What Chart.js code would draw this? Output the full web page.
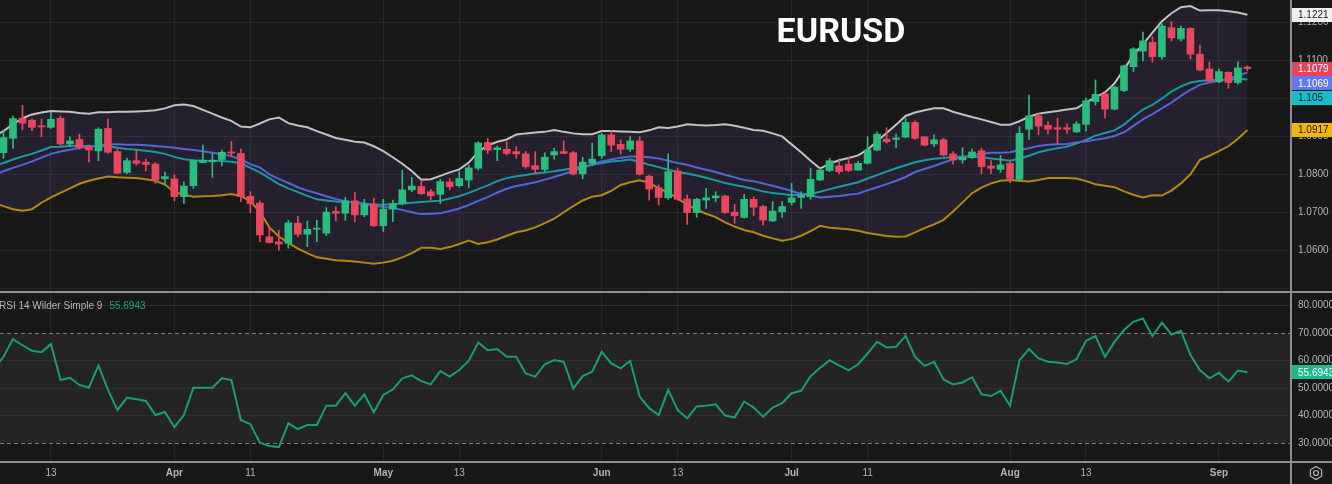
<!DOCTYPE html>
<html>
<head>
<meta charset="utf-8">
<script src="https://cdn.jsdelivr.net/npm/chart.js@4.4.1/dist/chart.umd.min.js"></script>
<style>
  html, body { margin:0; padding:0; background:#181818; }
  #wrap { position:relative; width:1332px; height:484px; overflow:hidden; background:#181818; }
  canvas { position:absolute; left:0; }
  #cPrice { top:0; }
  #cRsi { top:293px; }
  .hsep { position:absolute; left:0; width:1332px; height:2px; background:#8e9097; }
  .vsep { position:absolute; top:0; left:1290px; width:2px; height:484px; background:#8e9097; }
  #title { position:absolute; left:741px; width:200px; top:13px; text-align:center; font:700 34px/34px Roboto, sans-serif; color:#ffffff; }
  #rsiLegend { position:absolute; left:-1px; top:300px; font:10px/12px "Liberation Sans", Arial, sans-serif; color:#b2b5be; white-space:nowrap; }
  #rsiLegend span { color:#16a37e; margin-left:7px; }
</style>
</head>
<body>
<div id="wrap">
  <canvas id="cPrice" width="1332" height="292"></canvas>
  <canvas id="cRsi" width="1332" height="191"></canvas>
  <div class="hsep" style="top:291px"></div>
  <div class="hsep" style="top:461px"></div>
  <div class="vsep"></div>
  <div id="title">EURUSD</div>
  <div id="rsiLegend">RSI 14 Wilder Simple 9<span id="rsiVal"></span></div>
</div>
<script>
// ---- trading days (2024) ----
const dates = [
 '03-05','03-06','03-07','03-08','03-11','03-12','03-13','03-14','03-15','03-18','03-19','03-20','03-21','03-22','03-25','03-26','03-27','03-28','03-29',
 '04-01','04-02','04-03','04-04','04-05','04-08','04-09','04-10','04-11','04-12','04-15','04-16','04-17','04-18','04-19','04-22','04-23','04-24','04-25','04-26','04-29','04-30',
 '05-01','05-02','05-03','05-06','05-07','05-08','05-09','05-10','05-13','05-14','05-15','05-16','05-17','05-20','05-21','05-22','05-23','05-24','05-27','05-28','05-29','05-30','05-31',
 '06-03','06-04','06-05','06-06','06-07','06-10','06-11','06-12','06-13','06-14','06-17','06-18','06-19','06-20','06-21','06-24','06-25','06-26','06-27','06-28',
 '07-01','07-02','07-03','07-04','07-05','07-08','07-09','07-10','07-11','07-12','07-15','07-16','07-17','07-18','07-19','07-22','07-23','07-24','07-25','07-26','07-29','07-30','07-31',
 '08-01','08-02','08-05','08-06','08-07','08-08','08-09','08-12','08-13','08-14','08-15','08-16','08-19','08-20','08-21','08-22','08-23','08-26','08-27','08-28','08-29','08-30',
 '09-02','09-03','09-04','09-05'
];

// ---- axis tick labels ----
const tickDates  = ['03-13','04-01','04-11','05-01','05-13','06-03','06-13','07-01','07-11','08-01','08-13','09-02'];
const tickLabels = ['13','Apr','11','May','13','Jun','13','Jul','11','Aug','13','Sep'];
const priceTicks = [1.05,1.06,1.07,1.08,1.09,1.10,1.11,1.12];
const rsiTicks   = [30,40,50,60,70,80];
const rsiBands   = [30,70];

// ---- OHLC ----
const open = [null,
 1.0857,1.0895,1.0948,1.0943,1.0928,1.0924,1.0948,1.0880,1.0892,1.0873,1.0862,1.0921,1.0860,1.0805,1.0836,1.0832,1.0827,1.0788,
 1.0788,1.0741,1.0770,1.0831,1.0833,1.0839,1.0859,1.0855,1.0742,1.0724,
 1.0635,1.0622,1.0618,1.0671,1.0642,1.0655,1.0645,1.0702,1.0697,1.0730,
 1.0693,1.0722,1.0664,1.0708,1.0723,1.0759,1.0768,1.0754,1.0747,1.0780,
 1.0770,1.0785,1.0816,1.0884,1.0865,1.0866,1.0860,1.0854,1.0823,1.0813,
 1.0851,1.0860,1.0857,1.0801,1.0829,1.0849,1.0904,1.0879,1.0866,1.0888,
 1.0795,1.0765,1.0738,1.0809,1.0735,1.0699,1.0732,1.0738,1.0743,1.0700,
 1.0686,1.0734,1.0715,1.0677,1.0701,1.0726,1.0739,1.0741,1.0785,1.0810,
 1.0822,1.0827,1.0811,1.0829,1.0864,1.0893,1.0892,1.0898,1.0937,1.0899,
 1.0880,1.0891,1.0854,1.0838,1.0844,1.0862,1.0822,1.0813,1.0829,1.0787,
 1.0919,1.0954,1.0929,1.0923,1.0923,1.0912,1.0932,1.0992,1.1012,1.0972,
 1.1021,1.1084,1.1125,1.1148,1.1110,1.1187,1.1157,1.1185,1.1117,1.1078,
 1.1044,1.1069,1.1042,1.1083];
const high = [null,
 1.0917,1.0954,1.0982,1.0946,1.0946,1.0964,1.0954,1.0899,1.0906,1.0877,1.0923,1.0946,1.0866,1.0842,1.0864,1.0840,1.0831,1.0806,
 1.0798,1.0780,1.0838,1.0877,1.0855,1.0864,1.0886,1.0867,1.0754,1.0730,
 1.0661,1.0653,1.0679,1.0689,1.0677,1.0679,1.0712,1.0715,1.0739,1.0752,
 1.0734,1.0737,1.0734,1.0732,1.0811,1.0792,1.0785,1.0760,1.0787,1.0789,
 1.0807,1.0824,1.0886,1.0895,1.0875,1.0886,1.0873,1.0860,1.0860,1.0857,
 1.0869,1.0888,1.0860,1.0845,1.0882,1.0908,1.0915,1.0891,1.0901,1.0899,
 1.0798,1.0772,1.0854,1.0816,1.0745,1.0737,1.0763,1.0754,1.0745,1.0721,
 1.0747,1.0741,1.0719,1.0728,1.0728,1.0776,1.0754,1.0816,1.0816,1.0842,
 1.0836,1.0846,1.0835,1.0899,1.0912,1.0923,1.0906,1.0948,1.0941,1.0899,
 1.0904,1.0895,1.0860,1.0870,1.0867,1.0869,1.0836,1.0850,1.0836,1.0926,
 1.1009,1.0962,1.0939,1.0948,1.0933,1.0939,1.1001,1.1049,1.1015,1.1033,
 1.1088,1.1134,1.1175,1.1163,1.1197,1.1203,1.1191,1.1187,1.1141,1.1096,
 1.1078,1.1071,1.1097,1.1086];
const low = [null,
 1.0842,1.0869,1.0917,1.0915,1.0899,1.0921,1.0877,1.0873,1.0866,1.0833,1.0836,1.0855,1.0802,1.0802,1.0824,1.0809,1.0776,1.0772,
 1.0730,1.0723,1.0763,1.0830,1.0792,1.0822,1.0848,1.0728,1.0699,1.0622,
 1.0618,1.0600,1.0605,1.0635,1.0609,1.0622,1.0638,1.0677,1.0679,1.0675,
 1.0688,1.0662,1.0649,1.0675,1.0719,1.0754,1.0747,1.0732,1.0723,1.0759,
 1.0766,1.0765,1.0811,1.0855,1.0836,1.0851,1.0842,1.0816,1.0802,1.0807,
 1.0840,1.0854,1.0798,1.0788,1.0823,1.0842,1.0860,1.0854,1.0860,1.0798,
 1.0732,1.0719,1.0734,1.0732,1.0668,1.0687,1.0710,1.0728,1.0697,1.0671,
 1.0684,1.0691,1.0666,1.0675,1.0686,1.0719,1.0710,1.0734,1.0783,1.0807,
 1.0801,1.0807,1.0810,1.0827,1.0862,1.0882,1.0870,1.0897,1.0892,1.0875,
 1.0873,1.0848,1.0827,1.0829,1.0842,1.0802,1.0802,1.0805,1.0778,1.0781,
 1.0892,1.0904,1.0906,1.0880,1.0908,1.0910,1.0914,1.0983,1.0948,1.0970,
 1.1018,1.1071,1.1099,1.1096,1.1104,1.1152,1.1152,1.1104,1.1073,1.1044,
 1.1042,1.1027,1.1038,1.1073];
const close = [null,
 1.0897,1.0947,1.0935,1.0924,1.0925,1.0945,1.0880,1.0888,1.0871,1.0864,1.0919,1.0858,1.0803,1.0836,1.0829,1.0826,1.0785,1.0794,
 1.0741,1.0769,1.0836,1.0837,1.0837,1.0858,1.0856,1.0741,1.0723,1.0640,
 1.0620,1.0616,1.0672,1.0642,1.0655,1.0658,1.0700,1.0697,1.0730,1.0693,
 1.0721,1.0664,1.0708,1.0723,1.0759,1.0769,1.0749,1.0743,1.0781,1.0767,
 1.0789,1.0817,1.0883,1.0864,1.0870,1.0855,1.0854,1.0820,1.0813,1.0845,
 1.0860,1.0855,1.0801,1.0832,1.0840,1.0904,1.0877,1.0866,1.0888,1.0800,
 1.0761,1.0739,1.0807,1.0734,1.0699,1.0734,1.0738,1.0743,1.0699,1.0691,
 1.0734,1.0713,1.0679,1.0703,1.0715,1.0738,1.0745,1.0787,1.0811,1.0836,
 1.0807,1.0810,1.0829,1.0864,1.0906,1.0886,1.0896,1.0937,1.0895,1.0877,
 1.0891,1.0851,1.0838,1.0845,1.0859,1.0820,1.0816,1.0825,1.0789,1.0908,
 1.0954,1.0927,1.0919,1.0919,1.0919,1.0933,1.0994,1.1011,1.0972,1.1030,
 1.1086,1.1131,1.1152,1.1110,1.1191,1.1160,1.1185,1.1117,1.1075,1.1046,
 1.1071,1.1042,1.1081,1.1079];

// ---- Bollinger bands (upper / basis / lower) and second MA ----
const bbUpper = [
 1.0901,1.0914,1.0932,1.0948,1.0958,1.0963,1.0967,1.0966,1.0965,1.0962,1.0960,1.0964,1.0964,1.0965,1.0965,1.0966,1.0967,1.0969,1.0974,
 1.0982,1.0984,1.0980,1.0970,1.0960,1.0950,1.0941,1.0926,1.0924,1.0934,
 1.0945,1.0950,1.0935,1.0929,1.0924,1.0914,1.0905,1.0896,1.0891,1.0886,
 1.0884,1.0874,1.0861,1.0845,1.0828,1.0809,1.0786,1.0787,1.0796,1.0805,
 1.0813,1.0831,1.0859,1.0876,1.0886,1.0892,1.0905,1.0908,1.0910,1.0912,
 1.0917,1.0912,1.0908,1.0906,1.0906,1.0914,1.0914,1.0913,1.0912,1.0911,
 1.0916,1.0924,1.0922,1.0926,1.0932,1.0930,1.0929,1.0930,1.0932,1.0928,
 1.0923,1.0917,1.0915,1.0908,1.0900,1.0879,1.0858,1.0836,1.0815,1.0828,
 1.0837,1.0843,1.0850,1.0865,1.0887,1.0909,1.0931,1.0954,1.0963,1.0969,
 1.0974,1.0974,1.0965,1.0958,1.0951,1.0945,1.0938,1.0931,1.0931,1.0940,
 1.0952,1.0960,1.0964,1.0967,1.0971,1.0974,1.0990,1.1003,1.1016,1.1040,
 1.1077,1.1115,1.1143,1.1174,1.1204,1.1225,1.1241,1.1244,1.1232,1.1233,
 1.1233,1.1230,1.1227,1.1221];
const bbBasis = [
 1.0798,1.0808,1.0817,1.0825,1.0834,1.0844,1.0854,1.0860,1.0865,1.0870,1.0873,1.0876,1.0879,1.0879,1.0878,1.0878,1.0877,1.0875,1.0873,
 1.0870,1.0867,1.0864,1.0861,1.0857,1.0853,1.0848,1.0839,1.0827,1.0818,
 1.0800,1.0788,1.0777,1.0766,1.0757,1.0750,1.0742,1.0735,1.0729,1.0725,
 1.0721,1.0718,1.0714,1.0711,1.0706,1.0700,1.0695,1.0696,1.0697,1.0703,
 1.0710,1.0719,1.0730,1.0740,1.0752,1.0762,1.0769,1.0774,1.0779,1.0786,
 1.0793,1.0801,1.0809,1.0817,1.0826,1.0834,1.0839,1.0844,1.0847,1.0847,
 1.0845,1.0842,1.0836,1.0830,1.0825,1.0818,1.0812,1.0806,1.0799,1.0792,
 1.0785,1.0782,1.0776,1.0770,1.0763,1.0756,1.0748,1.0744,1.0739,1.0741,
 1.0743,1.0746,1.0749,1.0758,1.0766,1.0774,1.0783,1.0793,1.0806,1.0814,
 1.0822,1.0831,1.0839,1.0845,1.0850,1.0854,1.0857,1.0857,1.0858,1.0864,
 1.0869,1.0875,1.0878,1.0879,1.0880,1.0884,1.0887,1.0891,1.0895,1.0901,
 1.0911,1.0928,1.0945,1.0959,1.0974,1.0989,1.1007,1.1023,1.1036,1.1042,
 1.1047,1.1052,1.1060,1.1069];
const bbLower = [
 1.0724,1.0716,1.0708,1.0704,1.0708,1.0725,1.0739,1.0751,1.0763,1.0775,1.0783,1.0789,1.0794,1.0792,1.0791,1.0790,1.0787,1.0783,1.0773,
 1.0753,1.0746,1.0741,1.0742,1.0743,1.0745,1.0748,1.0743,1.0729,1.0701,
 1.0660,1.0636,1.0619,1.0604,1.0592,1.0581,1.0577,1.0573,1.0572,1.0570,
 1.0567,1.0564,1.0567,1.0572,1.0581,1.0592,1.0606,1.0606,1.0603,1.0608,
 1.0616,1.0625,1.0616,1.0621,1.0628,1.0638,1.0647,1.0652,1.0660,1.0671,
 1.0683,1.0700,1.0716,1.0731,1.0741,1.0745,1.0756,1.0772,1.0779,1.0784,
 1.0778,1.0763,1.0752,1.0736,1.0720,1.0706,1.0696,1.0687,1.0673,1.0662,
 1.0653,1.0647,1.0638,1.0631,1.0625,1.0629,1.0638,1.0650,1.0664,1.0659,
 1.0657,1.0655,1.0651,1.0645,1.0641,1.0637,1.0635,1.0636,1.0647,1.0658,
 1.0668,1.0680,1.0702,1.0726,1.0750,1.0765,1.0776,1.0783,1.0785,1.0783,
 1.0781,1.0785,1.0790,1.0790,1.0790,1.0789,1.0782,1.0774,1.0770,1.0766,
 1.0755,1.0746,1.0739,1.0745,1.0744,1.0757,1.0776,1.0800,1.0838,1.0849,
 1.0861,1.0874,1.0894,1.0917];
const maTeal = [
 1.0822,1.0830,1.0839,1.0847,1.0854,1.0863,1.0872,1.0873,1.0875,1.0875,1.0875,1.0875,1.0874,1.0870,1.0867,1.0865,1.0862,1.0859,1.0854,
 1.0846,1.0840,1.0837,1.0836,1.0836,1.0835,1.0833,1.0829,1.0817,1.0805,
 1.0790,1.0774,1.0763,1.0753,1.0743,1.0734,1.0731,1.0728,1.0727,1.0726,
 1.0723,1.0720,1.0720,1.0721,1.0723,1.0725,1.0727,1.0729,1.0730,1.0736,
 1.0742,1.0751,1.0761,1.0771,1.0782,1.0790,1.0795,1.0798,1.0802,1.0805,
 1.0808,1.0812,1.0816,1.0820,1.0825,1.0830,1.0834,1.0836,1.0839,1.0833,
 1.0825,1.0819,1.0812,1.0806,1.0802,1.0797,1.0791,1.0784,1.0777,1.0772,
 1.0767,1.0761,1.0755,1.0751,1.0748,1.0745,1.0747,1.0749,1.0754,1.0761,
 1.0767,1.0773,1.0779,1.0789,1.0798,1.0807,1.0816,1.0824,1.0832,1.0837,
 1.0841,1.0843,1.0846,1.0847,1.0847,1.0845,1.0842,1.0839,1.0836,1.0841,
 1.0849,1.0858,1.0864,1.0869,1.0873,1.0881,1.0891,1.0902,1.0909,1.0916,
 1.0931,1.0952,1.0971,1.0983,1.1000,1.1018,1.1032,1.1042,1.1046,1.1048,
 1.1049,1.1049,1.1052,1.1050];

// ---- RSI 14 ----
const rsi = [
 57.1,61.3,67.7,65.5,63.5,63.0,65.9,52.9,53.7,51.1,50.1,58.2,49.3,42.0,46.5,45.9,45.3,40.2,41.3,
 35.8,40.2,50.1,50.1,50.1,53.5,52.9,38.4,36.9,30.2,
 29.0,28.6,37.2,35.1,36.6,36.6,43.6,43.6,48.1,43.6,
 47.7,41.2,47.5,49.5,53.5,54.6,52.5,51.3,56.1,54.1,
 56.5,59.9,66.5,63.7,64.1,61.3,61.3,55.3,54.1,58.6,
 60.1,59.5,49.8,54.3,55.9,63.1,58.9,57.1,59.8,46.9,
 42.7,40.2,49.3,42.0,39.0,43.3,43.6,44.1,40.0,39.3,
 45.1,42.9,39.6,42.9,44.5,48.1,49.0,54.3,57.3,60.1,
 58.2,56.4,58.6,62.5,66.7,64.7,64.9,68.9,61.3,58.0,
 59.5,53.1,51.3,52.0,53.9,47.7,47.1,49.0,43.6,60.1,
 64.1,60.7,59.5,59.2,58.7,60.4,67.1,68.8,61.3,66.7,
 71.0,74.0,75.2,68.8,73.7,69.4,70.7,61.9,56.5,53.5,
 55.5,52.3,56.3,55.6943];

// ---- styling ----
const FONT = '"Liberation Sans", Arial, sans-serif';
const GREEN = '#2bbd7e', RED = '#e8475f';
const GRID = '#272727';
const xMin = 0.634, xMax = 136.59;
const tickIdx = tickDates.map(d => dates.indexOf(d));
const last = dates.length - 1;

const pts = arr => arr.map((v, i) => ({x: i, y: v})).filter(p => p.y != null);
const candleIdx = dates.map((d, i) => i).filter(i => open[i] != null);
const bodyData = candleIdx.map(i => ({x: i, y: [open[i], close[i]]}));
const wickData = candleIdx.map(i => ({x: i, y: [low[i], high[i]]}));
const candleColor = c => {
  const i = c.raw ? c.raw.x : null;
  if (i == null) return GREEN;
  return close[i] >= open[i] ? GREEN : RED;
};
const fixY = w => s => { s.width = w; s.paddingTop = 0; s.paddingBottom = 0; };
const setTicks = list => s => { s.ticks = list.map(v => ({value: v})); };

function lastLabels(items) {
  return {
    id: 'lastLabels',
    afterDraw(chart) {
      const c = chart.ctx, ys = chart.scales.y, ca = chart.chartArea;
      const arr = items.map(it => Object.assign({}, it, {py: ys.getPixelForValue(it.value)}))
                       .sort((a, b) => a.py - b.py);
      const H = 14, GAP = 14.7;
      let prev = -1e9;
      arr.forEach(it => { if (it.py < prev + GAP) it.py = prev + GAP; prev = it.py; });
      c.save();
      c.font = '10px ' + FONT;
      c.textBaseline = 'middle';
      c.textAlign = 'left';
      arr.forEach(it => {
        c.fillStyle = it.bg;
        c.fillRect(ca.right + 1, Math.round(it.py - H / 2), chart.width - ca.right - 1, H);
        c.fillStyle = it.fg;
        c.fillText(it.text, ca.right + 7, it.py + 0.5);
      });
      c.restore();
    }
  };
}

// ---- price pane ----
new Chart(document.getElementById('cPrice'), {
  type: 'bar',
  data: {
    datasets: [
      {type: 'bar', data: bodyData, backgroundColor: candleColor, barThickness: 7, minBarLength: 1, grouped: false, borderWidth: 0, order: 0},
      {type: 'bar', data: wickData, backgroundColor: candleColor, barThickness: 1, grouped: false, borderWidth: 0, order: 1},
      {type: 'line', data: pts(bbUpper), borderColor: '#c2c2c2', borderWidth: 2, pointRadius: 0, tension: 0,
        fill: '+1', backgroundColor: 'rgba(126,87,194,0.12)', order: 2},
      {type: 'line', data: pts(bbLower), borderColor: '#b08a12', borderWidth: 2, pointRadius: 0, tension: 0, fill: false, order: 3},
      {type: 'line', data: pts(bbBasis), borderColor: '#5466d6', borderWidth: 2, pointRadius: 0, tension: 0, fill: false, order: 4},
      {type: 'line', data: pts(maTeal), borderColor: '#1a9ba3', borderWidth: 2, pointRadius: 0, tension: 0, fill: false, order: 5}
    ]
  },
  options: {
    responsive: false, animation: false, devicePixelRatio: 1, events: [],
    layout: {padding: 0},
    plugins: {legend: {display: false}, tooltip: {enabled: false}, filler: {drawTime: 'beforeDatasetsDraw'}},
    scales: {
      x: {type: 'linear', min: xMin, max: xMax, offset: false,
          afterBuildTicks: setTicks(tickIdx),
          ticks: {display: false},
          grid: {color: GRID, drawTicks: false, offset: false},
          border: {display: false},
          afterFit: s => { s.height = 0; }},
      y: {position: 'right', min: 1.04895, max: 1.12599,
          afterBuildTicks: setTicks(priceTicks),
          ticks: {padding: 7, color: '#b2b5be', font: {family: FONT, size: 10},
                  callback: v => v < 1.055 ? '' : Number(v).toFixed(4)},
          grid: {color: GRID, drawTicks: false},
          border: {display: false},
          afterFit: fixY(41)}
    }
  },
  plugins: [lastLabels([
    {value: bbUpper[last], text: bbUpper[last].toFixed(4), bg: '#f0f0f0', fg: '#131722'},
    {value: close[last], text: close[last].toFixed(4), bg: close[last] >= open[last] ? GREEN : '#e5445d', fg: '#ffffff'},
    {value: bbBasis[last], text: bbBasis[last].toFixed(4), bg: '#6577f0', fg: '#ffffff'},
    {value: maTeal[last], text: String(+maTeal[last].toFixed(4)), bg: '#12c0cc', fg: '#131722'},
    {value: bbLower[last], text: bbLower[last].toFixed(4), bg: '#f2b705', fg: '#131722'}
  ])]
});

// ---- RSI pane ----
const rsiBandPlugin = {
  id: 'rsiBand',
  beforeDraw(chart) {
    const c = chart.ctx, ys = chart.scales.y, ca = chart.chartArea;
    const yTop = ys.getPixelForValue(Math.max(...rsiBands)), yBot = ys.getPixelForValue(Math.min(...rsiBands));
    c.save();
    c.fillStyle = '#242424';
    c.fillRect(ca.left, yTop, ca.right - ca.left, yBot - yTop);
    c.restore();
  },
  beforeDatasetsDraw(chart) {
    const c = chart.ctx, ys = chart.scales.y, ca = chart.chartArea;
    c.save();
    c.strokeStyle = '#7d7d7d';
    c.lineWidth = 1;
    c.setLineDash([4, 3]);
    rsiBands.forEach(v => {
      const y = Math.round(ys.getPixelForValue(v)) + 0.5;
      c.beginPath(); c.moveTo(ca.left, y); c.lineTo(ca.right, y); c.stroke();
    });
    c.restore();
  }
};
const gearPlugin = {
  id: 'gear',
  afterDraw(chart) {
    const c = chart.ctx, ca = chart.chartArea;
    const cx = ca.right + 25, cy = ca.bottom + 11;
    c.save();
    c.strokeStyle = '#b2b5be';
    c.lineWidth = 1.2;
    c.beginPath();
    for (let k = 0; k < 6; k++) {
      const a = Math.PI / 6 + k * Math.PI / 3;
      const px = cx + 6.5 * Math.cos(a), py = cy + 6.5 * Math.sin(a);
      if (k === 0) c.moveTo(px, py); else c.lineTo(px, py);
    }
    c.closePath(); c.stroke();
    c.beginPath(); c.arc(cx, cy, 2.5, 0, Math.PI * 2); c.stroke();
    c.restore();
  }
};

new Chart(document.getElementById('cRsi'), {
  type: 'line',
  data: {datasets: [{data: pts(rsi), borderColor: '#1a9d77', borderWidth: 2, pointRadius: 0, tension: 0, fill: false}]},
  options: {
    responsive: false, animation: false, devicePixelRatio: 1, events: [],
    layout: {padding: 0},
    plugins: {legend: {display: false}, tooltip: {enabled: false}},
    scales: {
      x: {type: 'linear', min: xMin, max: xMax, offset: false,
          afterBuildTicks: setTicks(tickIdx),
          ticks: {padding: 5, color: '#b2b5be', maxRotation: 0, autoSkip: false,
                  font: c => ({family: FONT, size: 10,
                    weight: (c.tick && /[A-Za-z]/.test(tickLabels[tickIdx.indexOf(c.tick.value)] || '')) ? 'bold' : 'normal'}),
                  callback: v => tickLabels[tickIdx.indexOf(v)] || ''},
          grid: {color: GRID, drawTicks: false, offset: false},
          border: {display: false},
          afterFit: s => { s.height = 22; }},
      y: {position: 'right', min: 23.19, max: 84.42,
          afterBuildTicks: setTicks(rsiTicks),
          ticks: {padding: 7, color: '#b2b5be', font: {family: FONT, size: 10}, callback: v => Number(v).toFixed(4)},
          grid: {color: c => (c.tick && rsiBands.includes(c.tick.value)) ? 'rgba(0,0,0,0)' : '#2e2e2e', drawTicks: false},
          border: {display: false},
          afterFit: fixY(41)}
    }
  },
  plugins: [rsiBandPlugin, gearPlugin, lastLabels([
    {value: rsi[last], text: rsi[last].toFixed(4), bg: '#1cb98a', fg: '#ffffff'}
  ])]
});

document.getElementById('rsiVal').textContent = rsi[last].toFixed(4);
</script>
</body>
</html>
